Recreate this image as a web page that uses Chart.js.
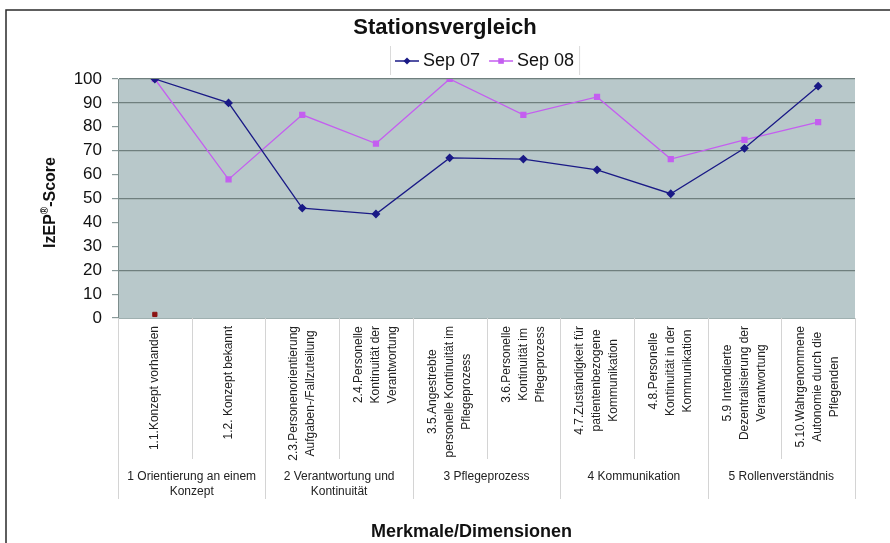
<!DOCTYPE html>
<html>
<head>
<meta charset="utf-8">
<script src="https://cdn.jsdelivr.net/npm/chart.js@4"></script>
<style>
html, body { margin: 0; padding: 0; background: #fff; }
</style>
</head>
<body>
<canvas id="chart" width="890" height="543"></canvas>
<script>
// Kategorien (Merkmale), je Zeile ein Array-Eintrag
const categories = [
  ['1.1.Konzept vorhanden'],
  ['1.2. Konzept bekannt'],
  ['2.3.Personenorientierung', 'Aufgaben-/Fallzuteilung'],
  ['2.4.Personelle', 'Kontinuität der', 'Verantwortung'],
  ['3.5.Angestrebte', 'personelle Kontinuität im', 'Pflegeprozess'],
  ['3.6.Personelle', 'Kontinuität im', 'Pflegeprozess'],
  ['4.7.Zuständigkeit für', 'patientenbezogene', 'Kommunikation'],
  ['4.8.Personelle', 'Kontinuität in der', 'Kommunikation'],
  ['5.9 Intendierte', 'Dezentralisierung der', 'Verantwortung'],
  ['5.10.Wahrgenommene', 'Autonomie durch die', 'Pflegenden']
];
// Dimensionen, jeweils zwei Kategorien
const groups = [
  ['1 Orientierung an einem', 'Konzept'],
  ['2 Verantwortung und', 'Kontinuität'],
  ['3 Pflegeprozess'],
  ['4 Kommunikation'],
  ['5 Rollenverständnis']
];
const sep07 = [100, 90, 46, 43.5, 67, 66.5, 62, 52, 71, 97];
const sep08 = [100, 58, 85, 73, 100, 85, 92.5, 66.5, 74.5, 82];
const stray = [1.5, null, null, null, null, null, null, null, null, null];
const gridValues = [100, 90, 70, 50, 20];
const xTitle = 'Merkmale/Dimensionen';
const yTitle = ['IzEP', '®', '-Score'];

const FONT = "'Liberation Sans', Arial, sans-serif";

function drawMarker(ctx, style, x, y, r, color) {
  ctx.fillStyle = color;
  ctx.beginPath();
  if (style === 'rectRot') {
    ctx.moveTo(x, y - r); ctx.lineTo(x + r, y); ctx.lineTo(x, y + r); ctx.lineTo(x - r, y);
  } else {
    ctx.rect(x - r * 0.8, y - r * 0.8, r * 1.6, r * 1.6);
  }
  ctx.closePath();
  ctx.fill();
}

const decor = {
  id: 'decor',
  beforeDraw(chart) {
    const {ctx, chartArea: a} = chart;
    ctx.save();
    ctx.fillStyle = '#fff';
    ctx.fillRect(0, 0, chart.width, chart.height);
    ctx.fillStyle = '#b8c8ca';
    ctx.fillRect(a.left, a.top, a.right - a.left, a.bottom - a.top);
    ctx.restore();
  },
  afterDraw(chart) {
    const {ctx, chartArea: a} = chart;
    const x = chart.scales.x;
    const y = chart.scales.y;
    ctx.save();
    // Trennlinien unter der Achse
    ctx.strokeStyle = '#d4d4d4';
    ctx.lineWidth = 1;
    for (let i = 0; i <= categories.length; i++) {
      const px = Math.round(x.getPixelForValue(i - 0.5)) + 0.5;
      ctx.beginPath();
      ctx.moveTo(px, a.bottom);
      ctx.lineTo(px, i % 2 === 0 ? 499 : 459);
      ctx.stroke();
    }
    // Merkmale: senkrecht, Zeilen zentriert, Block oben angeschlagen
    ctx.fillStyle = '#222';
    ctx.font = '12px ' + FONT;
    ctx.textAlign = 'center';
    ctx.textBaseline = 'middle';
    categories.forEach((lines, i) => {
      const cx = x.getPixelForValue(i);
      const w = Math.max(...lines.map(l => ctx.measureText(l).width));
      ctx.save();
      ctx.translate(cx, a.bottom + 8 + w / 2);
      ctx.rotate(-Math.PI / 2);
      lines.forEach((l, j) => ctx.fillText(l, 0, (j - (lines.length - 1) / 2) * 17));
      ctx.restore();
    });
    // Dimensionen
    groups.forEach((g, i) => {
      const cx = x.getPixelForValue(i * 2 + 0.5);
      g.forEach((line, j) => ctx.fillText(line, cx, 477 + j * 15));
    });
    // Achsentitel
    ctx.fillStyle = '#111';
    ctx.font = 'bold 18px ' + FONT;
    ctx.fillText(xTitle, (x.left + x.right) / 2 - 15, 532);
    ctx.font = 'bold 16px ' + FONT;
    const small = 'bold 10px ' + FONT;
    const w0 = ctx.measureText(yTitle[0]).width;
    const w2 = ctx.measureText(yTitle[2]).width;
    ctx.font = small;
    const w1 = ctx.measureText(yTitle[1]).width;
    ctx.save();
    ctx.translate(51, (y.top + y.bottom) / 2 + 4);
    ctx.rotate(-Math.PI / 2);
    ctx.textAlign = 'left';
    let tx = -(w0 + w1 + w2) / 2;
    ctx.font = 'bold 16px ' + FONT;
    ctx.fillText(yTitle[0], tx, 0);
    tx += w0;
    ctx.font = small;
    ctx.fillText(yTitle[1], tx, -6);
    tx += w1;
    ctx.font = 'bold 16px ' + FONT;
    ctx.fillText(yTitle[2], tx, 0);
    ctx.restore();
    // Rahmen
    ctx.strokeStyle = '#2a2a2a';
    ctx.lineWidth = 1.5;
    ctx.beginPath();
    ctx.moveTo(6, 543);
    ctx.lineTo(6, 10);
    ctx.lineTo(890, 10);
    ctx.stroke();
    // Legende
    const ds = chart.data.datasets.slice(0, 2);
    ctx.font = '18px ' + FONT;
    ctx.textAlign = 'left';
    let lx = 395;
    const ly = 61;
    ds.forEach(d => {
      ctx.strokeStyle = d.borderColor;
      ctx.lineWidth = 1.5;
      ctx.beginPath();
      ctx.moveTo(lx, ly); ctx.lineTo(lx + 24, ly);
      ctx.stroke();
      drawMarker(ctx, d.pointStyle, lx + 12, ly, 3.5, d.borderColor);
      ctx.fillStyle = '#111';
      ctx.fillText(d.label, lx + 28, ly);
      lx += 28 + ctx.measureText(d.label).width + 9;
    });
    ctx.strokeStyle = '#dadada';
    ctx.lineWidth = 1;
    ctx.beginPath();
    ctx.moveTo(390.5, 46); ctx.lineTo(390.5, 75);
    ctx.moveTo(lx - 3.5, 46); ctx.lineTo(lx - 3.5, 75);
    ctx.stroke();
    ctx.restore();
  }
};

new Chart(document.getElementById('chart'), {
  type: 'line',
  data: {
    labels: categories,
    datasets: [
      {
        label: 'Sep 07',
        data: sep07,
        borderColor: '#1a1a86',
        backgroundColor: '#1a1a86',
        borderWidth: 1.3,
        pointStyle: 'rectRot',
        pointRadius: 3.5,
        tension: 0
      },
      {
        label: 'Sep 08',
        data: sep08,
        borderColor: '#c45ef0',
        backgroundColor: '#c45ef0',
        borderWidth: 1.3,
        pointStyle: 'rect',
        pointRadius: 3.5,
        tension: 0
      },
      {
        label: 'Reihe3',
        data: stray,
        borderColor: '#8b1414',
        backgroundColor: '#8b1414',
        showLine: false,
        pointStyle: 'rect',
        pointRadius: 3
      }
    ]
  },
  options: {
    responsive: false,
    animation: false,
    devicePixelRatio: 1,
    layout: { padding: 0 },
    plugins: {
      legend: { display: false },
      tooltip: { enabled: false },
      title: {
        display: true,
        text: 'Stationsvergleich',
        color: '#111',
        font: { family: FONT, size: 22, weight: 'bold' },
        padding: { top: 14.8, bottom: 37.8 }
      }
    },
    scales: {
      x: {
        offset: true,
        grid: { display: false, drawTicks: false },
        border: { display: true, color: '#9fb0b0' },
        ticks: { display: false },
        afterFit(scale) { scale.height = 225; }
      },
      y: {
        min: 0,
        max: 100,
        ticks: {
          stepSize: 10,
          padding: 10,
          color: '#111',
          font: { family: FONT, size: 17 }
        },
        grid: {
          color: ctx => gridValues.includes(ctx.tick && ctx.tick.value) ? '#6f7f7e' : 'rgba(0,0,0,0)',
          tickColor: '#8a9a9a',
          tickLength: 6,
          lineWidth: 1.2
        },
        border: { display: true, color: '#7d8d8c' },
        afterFit(scale) { scale.width = 118; }
      },
      // leerer Rand rechts, damit der Titel mittig über der Seite steht
      yRight: {
        position: 'right',
        display: true,
        grid: { display: false },
        border: { display: false },
        ticks: { display: false },
        afterFit(scale) { scale.width = 35; }
      }
    }
  },
  plugins: [decor]
});
</script>
</body>
</html>
